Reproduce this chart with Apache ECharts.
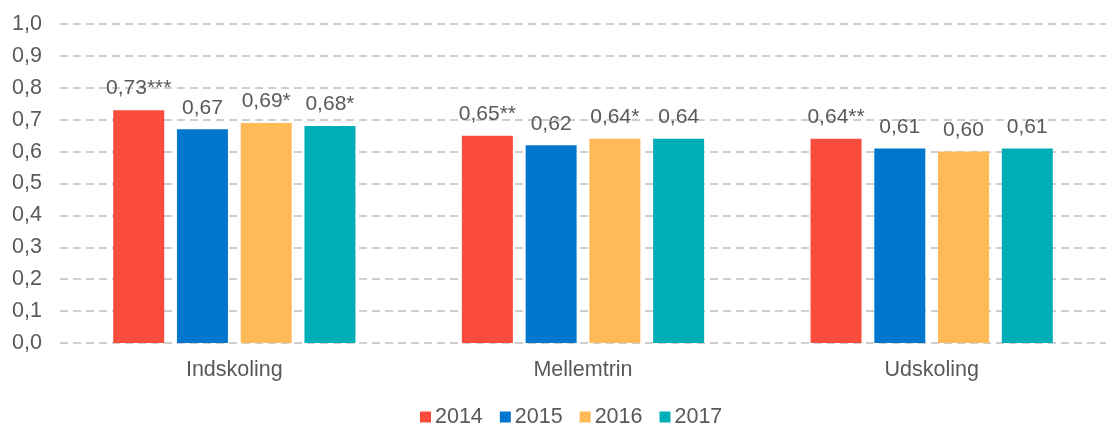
<!DOCTYPE html>
<html>
<head>
<meta charset="utf-8">
<script src="https://cdn.jsdelivr.net/npm/echarts@6/dist/echarts.min.js"></script>
<style>
	html, body { margin: 0; padding: 0; background: #fff; }
	#main { width: 1106px; height: 423px; }
</style>
</head>
<body>
<div id="main"></div>
<script>
var categories = ['Indskoling', 'Mellemtrin', 'Udskoling'];
var years = ['2014', '2015', '2016', '2017'];
var colors = ['#f94c3c', '#0077cc', '#ffb957', '#00aeb8'];
var v2014 = [0.73, 0.65, 0.64];
var v2015 = [0.67, 0.62, 0.61];
var v2016 = [0.69, 0.64, 0.60];
var v2017 = [0.68, 0.64, 0.61];
// signifikans-stjerner pr. serie
var s2014 = ['***', '**', '**'];
var s2015 = ['', '', ''];
var s2016 = ['*', '*', ''];
var s2017 = ['*', '', ''];

var values = [v2014, v2015, v2016, v2017];
var stars = [s2014, s2015, s2016, s2017];

var font = 'Liberation Sans, Arial, sans-serif';
var textColor = '#595959';

function comma(v, d){
	return v.toFixed(d).replace('.', ',');
}

var myChart = echarts.init(document.getElementById('main'));
var series = [];
for (var i = 0; i < years.length; i++) {
	(function (i){
		series.push({
			name: years[i],
			type: 'bar',
			barWidth: 51,
			barGap: '25%',
			itemStyle: { color: colors[i] },
			label: {
				show: true,
				position: 'top',
				distance: 11,
				color: textColor,
				fontFamily: font,
				fontSize: 21,
				formatter: function (p){
					return comma(p.value, 2) + stars[i][p.dataIndex];
				}
			},
			data: values[i]
		});
	})(i);
}

var option = {
	animation: false,
	textStyle: { fontFamily: font },
	legend: {
		data: years,
		top: 401,
		left: 415,
		itemWidth: 11,
		itemHeight: 11,
		itemGap: 17,
		icon: 'rect',
		textStyle: { color: textColor, fontSize: 21.5, fontFamily: font, padding: [0, 0, 0, -1] }
	},
	grid: {
		left: 60,
		right: 0,
		top: 24,
		bottom: 80
	},
	xAxis: {
		type: 'category',
		data: categories,
		axisLine: { show: false },
		axisTick: { show: false },
		axisLabel: { color: textColor, fontSize: 21.5, fontFamily: font, margin: 16 }
	},
	yAxis: {
		type: 'value',
		min: 0,
		max: 1,
		interval: 0.1,
		axisLine: { show: false },
		axisTick: { show: false },
		axisLabel: {
			color: textColor,
			fontSize: 21.5,
			fontFamily: font,
			margin: 18,
			formatter: function (v){ return comma(v, 1); }
		},
		splitLine: {
			lineStyle: { color: '#bfbfbf', type: [8, 5], width: 1.5 }
		}
	},
	series: series
};
myChart.setOption(option);
</script>
</body>
</html>
